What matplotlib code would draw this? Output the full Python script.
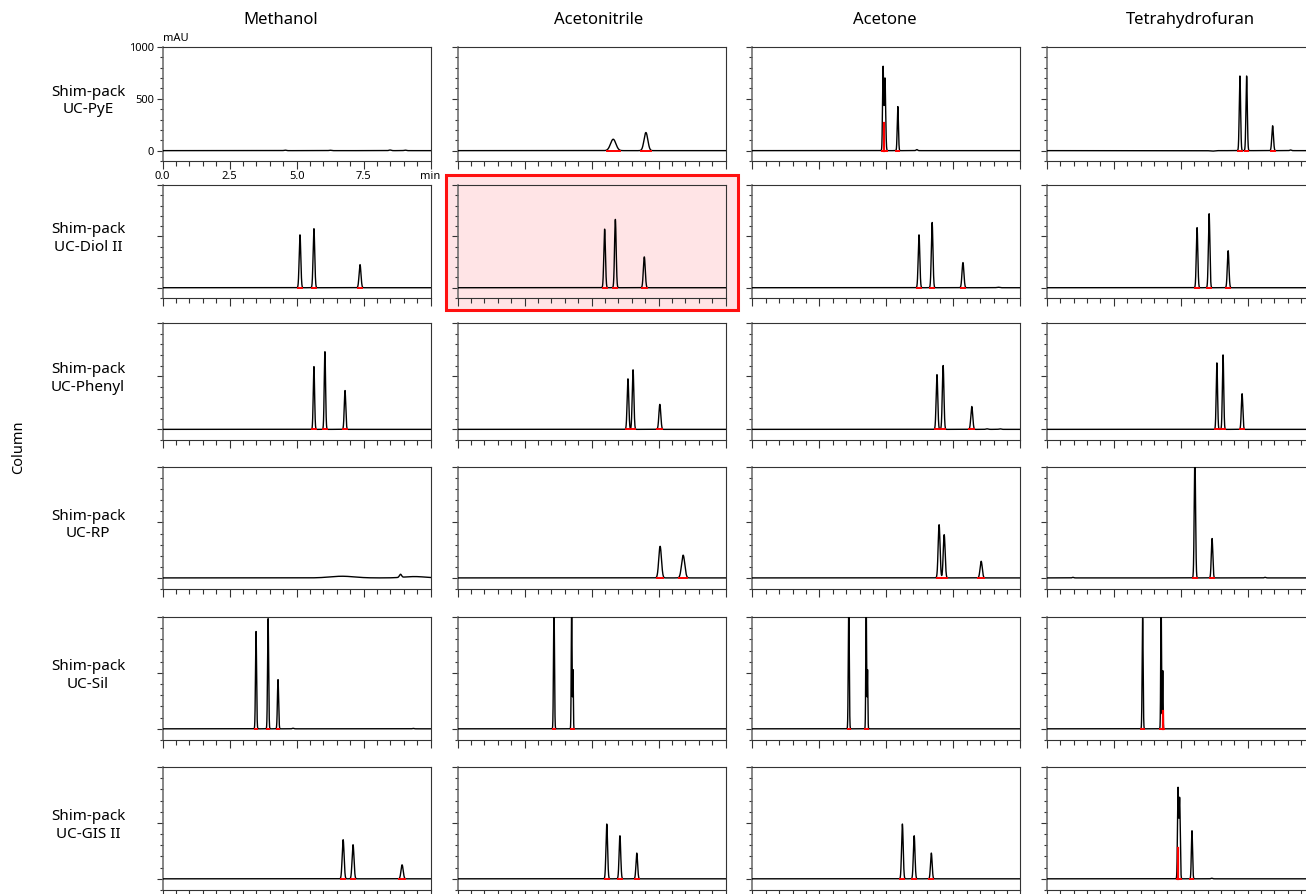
import numpy as np
import matplotlib
matplotlib.use("Agg")
import matplotlib.pyplot as plt
from matplotlib.patches import Rectangle
from matplotlib.ticker import MultipleLocator

plt.rcParams['font.family'] = ['Noto Sans', 'DejaVu Sans']

solvents = ['Methanol', 'Acetonitrile', 'Acetone', 'Tetrahydrofuran']
columns = ['Shim-pack\nUC-PyE', 'Shim-pack\nUC-Diol II', 'Shim-pack\nUC-Phenyl',
           'Shim-pack\nUC-RP', 'Shim-pack\nUC-Sil', 'Shim-pack\nUC-GIS II']

# peaks: retention time (min), height (mAU), sigma (min)
# one inner list per solvent (Methanol, Acetonitrile, Acetone, THF)
pye_rt = [[4.57, 6.25, 8.49, 9.05], [5.81, 7.03], [4.88, 4.95, 5.43, 6.14], [6.17, 7.21, 7.46, 8.43, 9.10]]
pye_h = [[5, 4, 6, 5], [110, 175], [800, 700, 425, 10], [-5, 720, 720, 240, 6]]
pye_w = [[0.04, 0.04, 0.04, 0.04], [0.1, 0.07], [0.02, 0.025, 0.022, 0.03], [0.08, 0.025, 0.025, 0.03, 0.03]]

diol_rt = [[5.13, 5.65, 7.37], [5.49, 5.89, 6.97], [6.22, 6.71, 7.86, 9.17], [5.61, 6.06, 6.77]]
diol_h = [[515, 575, 225], [570, 665, 300], [515, 635, 245, 5], [585, 720, 360]]
diol_w = [[0.03, 0.03, 0.035], [0.03, 0.03, 0.035], [0.03, 0.03, 0.035, 0.05], [0.028, 0.028, 0.03]]

phenyl_rt = [[5.65, 6.06, 6.81], [6.36, 6.55, 7.55], [6.89, 7.12, 8.19, 8.76, 9.24], [6.35, 6.58, 7.29]]
phenyl_h = [[590, 730, 365], [475, 560, 235], [515, 600, 215, 5, 5], [625, 700, 335]]
phenyl_w = [[0.025, 0.025, 0.028], [0.03, 0.03, 0.035], [0.03, 0.03, 0.035, 0.04, 0.04], [0.025, 0.025, 0.028]]

rp_rt = [[6.7, 8.88, 9.4], [7.56, 8.42], [6.97, 7.16, 8.54], [0.98, 5.53, 6.17, 8.15]]
rp_h = [[15, 28, 12], [285, 205], [480, 390, 150], [5, 1100, 355, 5]]
rp_w = [[0.45, 0.04, 0.4], [0.05, 0.06], [0.035, 0.035, 0.04], [0.03, 0.025, 0.028, 0.03]]

sil_rt = [[3.49, 3.94, 4.31, 4.87, 9.35], [3.6, 4.26, 4.31], [3.6, 4.25, 4.30], [3.58, 4.27, 4.33]]
sil_h = [[870, 985, 440, 5, 4], [1150, 1150, 525], [1150, 1150, 525], [990, 1150, 520]]
sil_w = [[0.02, 0.02, 0.022, 0.03, 0.03], [0.018, 0.015, 0.012], [0.018, 0.015, 0.012], [0.018, 0.015, 0.012]]

gis_rt = [[6.74, 7.11, 8.94], [5.57, 6.06, 6.69], [5.6, 6.04, 6.68], [4.9, 4.96, 5.42, 6.16]]
gis_h = [[350, 305, 125], [490, 385, 230], [490, 385, 230], [800, 720, 430, 5]]
gis_w = [[0.035, 0.035, 0.04], [0.03, 0.03, 0.03], [0.03, 0.03, 0.03], [0.02, 0.022, 0.022, 0.03]]

# red drop lines between co-eluting peaks: (row, solvent, time, height)
drop_row = [0, 4, 5]
drop_col = [2, 3, 3]
drop_rt = [4.9, 4.33, 4.9]
drop_h = [270, 160, 275]

highlight = (1, 1)

all_rt = [pye_rt, diol_rt, phenyl_rt, rp_rt, sil_rt, gis_rt]
all_h = [pye_h, diol_h, phenyl_h, rp_h, sil_h, gis_h]
all_w = [pye_w, diol_w, phenyl_w, rp_w, sil_w, gis_w]

# layout in pixels of the 1306x894 picture
W, H = 1306, 894
col_left = [162.5, 457.5, 752.3, 1046.7]
ax_w = 268
row_top = [47, 185, 323, 467, 617, 767]
row_bot = [161, 298, 440, 589, 740, 890]
title_x = [281, 599, 885, 1190]

fig = plt.figure(figsize=(W / 100, H / 100), dpi=100)

t = np.linspace(0, 10, 8001)
spine_c = '#333333'

for r in range(6):
    for c in range(4):
        x0 = col_left[c]
        ax = fig.add_axes([x0 / W, 1 - row_bot[r] / H, ax_w / W, (row_bot[r] - row_top[r]) / H])
        if (r, c) == highlight:
            ax.set_facecolor('#ffe4e6')
            fig.patches.append(Rectangle(((x0 - 11.5) / W, 1 - 310 / H), (ax_w + 24) / W, 135 / H,
                                         transform=fig.transFigure, facecolor='#ffe4e6',
                                         edgecolor='#ff1010', lw=2.2, zorder=-1))
        rts, hs, ws = all_rt[r][c], all_h[r][c], all_w[r][c]
        y = np.zeros_like(t)
        for rt, h, w in zip(rts, hs, ws):
            y += h * np.exp(-0.5 * ((t - rt) / w) ** 2)
        ax.plot(t, y, color='black', lw=1.0, zorder=3)
        for rt, h, w in zip(rts, hs, ws):
            if h >= 50:
                ax.plot([rt - 2.5 * w, rt + 2.5 * w], [0, 0], color='red', lw=1.4, zorder=4)
        for dr, dc, drt, dh in zip(drop_row, drop_col, drop_rt, drop_h):
            if dr == r and dc == c:
                ax.plot([drt, drt], [0, dh], color='red', lw=1.6, zorder=4)

        ax.set_xlim(0, 10)
        ax.set_ylim(-100, 1000)
        ax.xaxis.set_major_locator(MultipleLocator(2.5))
        ax.xaxis.set_minor_locator(MultipleLocator(0.5))
        ax.yaxis.set_major_locator(MultipleLocator(500))
        ax.yaxis.set_minor_locator(MultipleLocator(100))
        for s in ax.spines.values():
            s.set_color(spine_c)
            s.set_linewidth(0.8)
        ax.spines['left'].set_color('#666666')
        ax.spines['left'].set_linewidth(1.1)
        ax.tick_params(which='both', direction='out', color=spine_c, width=0.8)
        ax.tick_params(axis='x', which='major', length=5.5)
        ax.tick_params(axis='x', which='minor', length=3.5)
        ax.tick_params(axis='y', which='major', length=4.5)
        ax.tick_params(axis='y', which='minor', length=2)
        if r == 0 and c == 0:
            ax.tick_params(labelsize=8, pad=1.5)
            ax.set_xticks([0, 2.5, 5, 7.5, 10])
            ax.set_xticklabels(['0.0', '2.5', '5.0', '7.5', 'min'])
            ax.set_yticks([0, 500, 1000])
            ax.set_yticklabels(['0', '500', '1000'])
            ax.text(0.0, 1.03, 'mAU', transform=ax.transAxes, ha='left', va='bottom', fontsize=8)
        else:
            ax.tick_params(labelleft=False, labelbottom=False)

    fig.text(88 / W, 1 - ((row_top[r] + row_bot[r]) / 2 - 3) / H, columns[r],
             ha='center', va='center', fontsize=11, linespacing=1.25)

for c in range(4):
    fig.text(title_x[c] / W, 1 - 20 / H, solvents[c], ha='center', va='center', fontsize=12)

fig.text(19 / W, 1 - 447 / H, 'Column', rotation=90, ha='center', va='center', fontsize=10.5)

fig.savefig('out.png', dpi=100)
